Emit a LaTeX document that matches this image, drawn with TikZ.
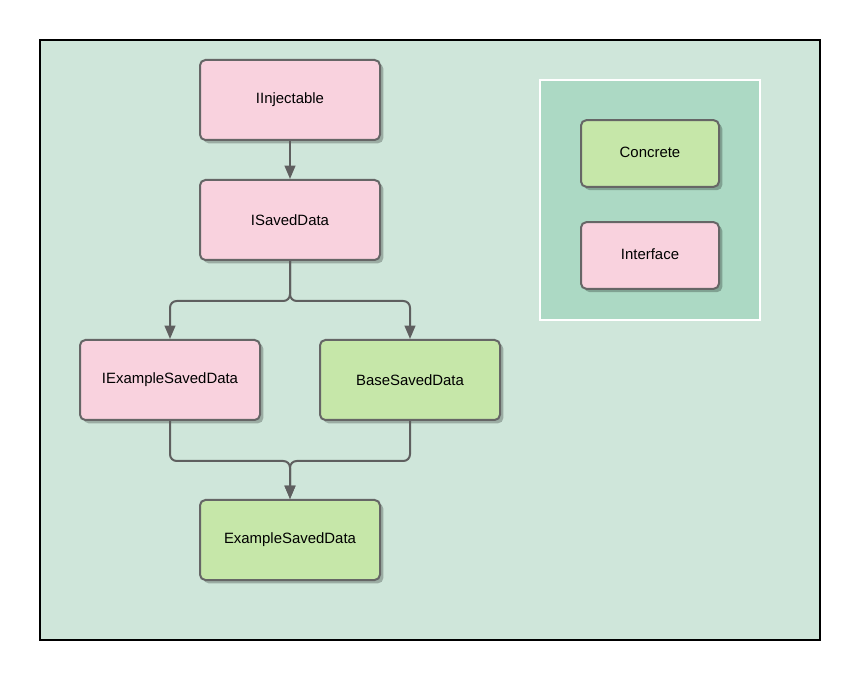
\documentclass[tikz,border=0pt]{standalone}
\usepackage{fontspec}
\setmainfont{Liberation Sans}
\usetikzlibrary{arrows.meta,shadows}
\definecolor{bgc}{HTML}{CFE6DA}
\definecolor{legc}{HTML}{ACD9C4}
\definecolor{pinkc}{HTML}{F9D2DE}
\definecolor{greenc}{HTML}{C6E7A9}
\definecolor{edgec}{HTML}{5F5F5F}
\definecolor{borderc}{HTML}{666666}
\tikzset{
  box/.style={draw=borderc, line width=1.5pt, rounded corners=4pt,
    minimum width=135pt, minimum height=60pt, inner sep=0pt,
    font=\fontsize{11.2pt}{13pt}\selectfont,
    drop shadow={shadow xshift=2.5pt, shadow yshift=-2.5pt, opacity=0.25, fill=black}},
  smallbox/.style={box, minimum width=103.5pt, minimum height=50pt},
  iface/.style={fill=pinkc},
  concrete/.style={fill=greenc},
  conn/.style={draw=edgec, line width=1.5pt, rounded corners=5pt,
    -{Triangle[length=10pt,width=8pt]}},
}
\begin{document}
\begin{tikzpicture}[x=0.75pt,y=-0.75pt]
\useasboundingbox (0,0) rectangle (860,680);
\fill[white] (0,0) rectangle (860,680);
\draw[fill=bgc, line width=1.5pt] (40,40) rectangle (820,640);
\draw[fill=legc, draw=white, line width=1.5pt] (540,80) rectangle (760,320);

\node[box,iface] (inj) at (290,100) {IInjectable};
\node[box,iface] (isd) at (290,220) {ISavedData};
\node[box,iface] (iesd) at (170,380) {IExampleSavedData};
\node[box,concrete] (bsd) at (410,380) {BaseSavedData};
\node[box,concrete] (esd) at (290,540) {ExampleSavedData};

\node[smallbox,concrete] (lc) at (650,153.5) {\raisebox{1.5pt}{Concrete}};
\node[smallbox,iface] (li) at (650,255.5) {\raisebox{1.5pt}{Interface}};

\draw[conn] (inj) -- (isd);
\draw[conn] (isd.south) -- ++(0,40) -| (iesd.north);
\draw[conn] (isd.south) -- ++(0,40) -| (bsd.north);
\draw[conn] (iesd.south) -- ++(0,40) -| (esd.north);
\draw[conn] (bsd.south) -- ++(0,40) -| (esd.north);
\end{tikzpicture}
\end{document}
